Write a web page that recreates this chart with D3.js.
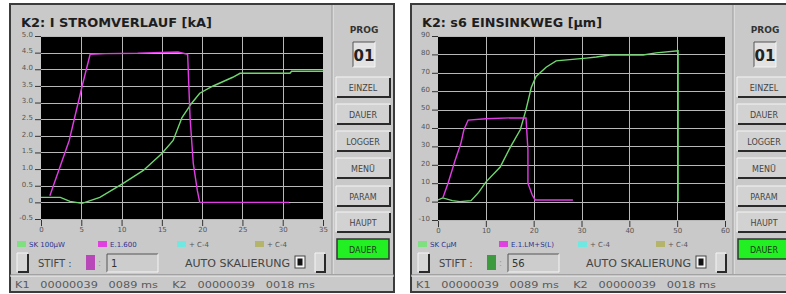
<!DOCTYPE html>
<html>
<head>
<meta charset="utf-8">
<script src="https://d3js.org/d3.v7.min.js"></script>
<style>
  body { margin: 0; background: #fff; }
  svg text { font-family: "DejaVu Sans", sans-serif; }
</style>
</head>
<body>
<svg id="svg" width="786" height="294"></svg>
<script>
// ---- left panel: current curve
const leftTitle = "K2: I STROMVERLAUF [kA]";
const leftXTicks = [0, 5, 10, 15, 20, 25, 30, 35];
const leftYTicks = [-0.5, 0, 0.5, 1, 1.5, 2, 2.5, 3, 3.5, 4, 4.5, 5];
const leftMagT = [1.1, 3.5, 5.1, 6.1, 8, 12, 14, 17, 18.2, 18.5, 18.9, 19.4, 19.7, 30.8];
const leftMagV = [0.2, 1.86, 3.49, 4.45, 4.47, 4.48, 4.5, 4.52, 4.45, 2.55, 1.17, 0.36, 0.0, 0.0];
const leftGrnT = [0, 2.4, 3.6, 5.1, 7.3, 10.2, 12.7, 15.0, 16.4, 17.5, 18.7, 19.7, 21.3, 23.8, 24.7, 30.9, 31.1, 35];
const leftGrnV = [0.15, 0.15, 0.03, -0.03, 0.15, 0.57, 0.96, 1.47, 1.86, 2.55, 2.98, 3.28, 3.49, 3.76, 3.88, 3.88, 3.94, 3.94];
const leftLegend = ["SK 100µW", "E.1.600", "+ C-4", "+ C-4"];

// ---- right panel: displacement curve
const rightTitle = "K2: s6 EINSINKWEG [µm]";
const rightXTicks = [0, 10, 20, 30, 40, 50, 60];
const rightYTicks = [-10, 0, 10, 20, 30, 40, 50, 60, 70, 80, 90];
const rightMagT = [1.0, 2.1, 3.6, 4.8, 5.4, 6.3, 10, 15, 18.4, 18.8, 18.8, 19.7, 20.3, 28.2];
const rightMagV = [2, 10, 22.6, 31.8, 38.9, 44.3, 45, 45.5, 45.4, 28, 10, 3.6, 0.9, 0.9];
const rightGrnT = [0, 1.0, 3.0, 4.6, 6.9, 8.5, 10.0, 13.0, 15.1, 17.2, 18.4, 19.5, 20.5, 22.6, 24.7, 31.0, 33.1, 36.0, 42.9, 45.6, 50.2, 50.2];
const rightGrnV = [0.9, 2, 0.5, 0, 0.5, 5, 10.6, 18.8, 29.5, 39, 50, 62, 68, 73, 76.5, 78, 78.6, 79.7, 79.7, 80.8, 82, 0];
const rightLegend = ["SK CµM", "E.1.LM+S(L)", "+ C-4", "+ C-4"];

const sideButtons = ["EINZEL", "DAUER", "LOGGER", "MENÜ", "PARAM", "HAUPT"];
const statusText = "K1   00000039   0089 ms    K2   00000039   0018 ms";

const svg = d3.select("#svg");
const panelGray = "#c9c9c9";
const dark = "#2a2a2a";

function raised(g, x, y, w, h, fill) {
    g.append("rect").attr("x", x).attr("y", y).attr("width", w).attr("height", h).attr("fill", fill || "#d2d2d2");
    g.append("path").attr("d", `M${x},${y + h} V${y} H${x + w}`).attr("stroke", "#f4f4f4").attr("fill", "none");
    g.append("path").attr("d", `M${x + 1},${y + h} H${x + w} V${y + 1}`).attr("stroke", dark).attr("stroke-width", 2).attr("fill", "none");
}

function sunken(g, x, y, w, h, fill) {
    g.append("rect").attr("x", x).attr("y", y).attr("width", w).attr("height", h).attr("fill", fill || "#d0d0d0");
    g.append("path").attr("d", `M${x},${y + h} V${y} H${x + w}`).attr("stroke", "#555").attr("fill", "none");
    g.append("path").attr("d", `M${x},${y + h} H${x + w} V${y}`).attr("stroke", "#f4f4f4").attr("fill", "none");
}

function drawPanel(ox, ox0, cfg) {
    const g = svg.append("g").attr("transform", `translate(${ox},0)`);

    // frame
    g.append("rect").attr("x", ox0).attr("y", 4).attr("width", 394 - ox0).attr("height", 288)
        .attr("fill", panelGray).attr("stroke", "#3c3c3c").attr("stroke-width", 2);
    g.append("line").attr("x1", 333).attr("x2", 333).attr("y1", 5).attr("y2", 274).attr("stroke", "#ececec");
    g.append("line").attr("x1", 332).attr("x2", 332).attr("y1", 5).attr("y2", 274).attr("stroke", "#9a9a9a");
    g.append("line").attr("x1", ox0).attr("x2", 394).attr("y1", 275).attr("y2", 275).attr("stroke", "#7a7a7a");
    g.append("line").attr("x1", ox0).attr("x2", 394).attr("y1", 276).attr("y2", 276).attr("stroke", "#efefef");

    // title
    g.append("text").attr("x", 21).attr("y", 27).text(cfg.title)
        .attr("font-size", 12).attr("font-weight", "bold").attr("fill", "#1e1e1e")
        .attr("textLength", cfg.titleW).attr("lengthAdjust", "spacingAndGlyphs");

    // plot
    const x = d3.scaleLinear().domain(d3.extent(cfg.xTicks)).range([cfg.plotL, cfg.plotR]);
    const y = d3.scaleLinear().domain(d3.extent(cfg.yTicks)).range([cfg.plotB, 36]);

    g.append("rect").attr("x", cfg.plotL).attr("y", 36).attr("width", cfg.plotR - cfg.plotL)
        .attr("height", cfg.plotB - 36).attr("fill", "#000");

    const grid = g.append("g").attr("stroke", "#b8b8b8").attr("stroke-width", 1);
    grid.selectAll("line.h").data(cfg.yTicks).join("line").attr("class", "h")
        .attr("x1", cfg.plotL).attr("x2", cfg.plotR)
        .attr("y1", d => Math.round(y(d)) + 0.5).attr("y2", d => Math.round(y(d)) + 0.5);
    grid.selectAll("line.v").data(cfg.xTicks.slice(1, -1)).join("line").attr("class", "v")
        .attr("y1", 36).attr("y2", cfg.plotB)
        .attr("x1", d => Math.round(x(d)) + 0.5).attr("x2", d => Math.round(x(d)) + 0.5);

    const yAx = g.append("g").attr("transform", `translate(${cfg.plotL},0)`)
        .call(d3.axisLeft(y).tickValues(cfg.yTicks).tickSize(6).tickPadding(2).tickFormat(cfg.yFmt));
    const xAx = g.append("g").attr("transform", `translate(0,${cfg.plotB + 1})`)
        .call(d3.axisBottom(x).tickValues(cfg.xTicks).tickSize(6).tickPadding(1));
    [yAx, xAx].forEach(a => {
        a.select(".domain").remove();
        a.selectAll("line").attr("stroke", "#333");
        a.selectAll("text").attr("font-size", 7).attr("fill", "#555").attr("font-family", "DejaVu Sans");
    });
    yAx.selectAll("text").attr("dy", "0.05em");

    const clipId = "clip" + ox;
    g.append("clipPath").attr("id", clipId).append("rect")
        .attr("x", cfg.plotL).attr("y", 36).attr("width", cfg.plotR - cfg.plotL).attr("height", cfg.plotB - 36);

    const line = d3.line().x(d => x(d[0])).y(d => y(d[1]));
    const series = [
        { t: cfg.grnT, v: cfg.grnV, c: "#6fd86f" },
        { t: cfg.magT, v: cfg.magV, c: "#e23ce6" }
    ];
    g.append("g").attr("clip-path", `url(#${clipId})`).selectAll("path")
        .data(series).join("path")
        .attr("d", s => line(d3.zip(s.t, s.v)))
        .attr("fill", "none").attr("stroke", s => s.c).attr("stroke-width", 1.4);

    // legend
    const legCols = ["#7ee07e", "#e040e0", "#6ee8e0", "#b4b46a"];
    const legX = [17, 98, 177, 255];
    cfg.legend.forEach((t, i) => {
        g.append("rect").attr("x", legX[i]).attr("y", 241).attr("width", 9).attr("height", 6).attr("fill", legCols[i]);
        g.append("text").attr("x", legX[i] + 12).attr("y", 247).text(t)
            .attr("font-size", 7).attr("fill", i < 2 ? "#2a3590" : "#555");
    });

    // controls row
    raised(g, 17, 253, 11, 19, "#d6d6d6");
    g.append("text").attr("x", 38).attr("y", 267).text("STIFT :").attr("font-size", 10).attr("fill", "#444");
    g.append("rect").attr("x", 86).attr("y", 255).attr("width", 9).attr("height", 15).attr("fill", cfg.stiftCol);
    g.append("text").attr("x", 98).attr("y", 266).text(":").attr("font-size", 9).attr("fill", "#999");
    sunken(g, 107, 254, 51, 18, "#cdcdcd");
    g.append("text").attr("x", 111).attr("y", 267).text(cfg.stift).attr("font-size", 10).attr("fill", "#333");
    g.append("text").attr("x", 185).attr("y", 267).text("AUTO SKALIERUNG").attr("font-size", 10).attr("fill", "#444")
        .attr("textLength", 105).attr("lengthAdjust", "spacingAndGlyphs");
    g.append("rect").attr("x", 295).attr("y", 256).attr("width", 10).attr("height", 12)
        .attr("fill", "#f4f4f4").attr("stroke", "#444");
    g.append("rect").attr("x", 297.5).attr("y", 258.5).attr("width", 5).attr("height", 7).attr("fill", "#111");
    raised(g, 315, 253, 10, 19, "#d6d6d6");

    // status bar
    g.append("text").attr("x", 15).attr("y", 288).text(statusText)
        .style("white-space", "pre").attr("xml:space", "preserve")
        .attr("font-size", 8.5).attr("fill", "#5a5a5a").attr("textLength", 300).attr("lengthAdjust", "spacingAndGlyphs");

    // sidebar
    g.append("text").attr("x", 364).attr("y", 33).attr("text-anchor", "middle").text("PROG")
        .attr("font-size", 9).attr("font-weight", "bold").attr("fill", "#333");
    sunken(g, 353, 42, 22, 25, "#e2e2e2");
    g.append("text").attr("x", 364).attr("y", 61).attr("text-anchor", "middle").text("01")
        .attr("font-size", 15).attr("font-weight", "bold").attr("fill", "#222");
    const by = [77, 104, 131, 158, 186, 212];
    sideButtons.forEach((t, i) => {
        raised(g, 336, by[i], 54, 20);
        g.append("text").attr("x", 363).attr("y", by[i] + 14).attr("text-anchor", "middle").text(t)
            .attr("font-size", 8).attr("fill", "#444");
    });
    g.append("rect").attr("x", 337).attr("y", 239).attr("width", 52).attr("height", 20)
        .attr("fill", "#22f022").attr("stroke", "#333").attr("stroke-width", 1.5);
    g.append("text").attr("x", 363).attr("y", 253).attr("text-anchor", "middle").text("DAUER")
        .attr("font-size", 8).attr("fill", "#1a3a1a");
}

drawPanel(0, 10, {
    title: leftTitle, titleW: 191,
    xTicks: leftXTicks, yTicks: leftYTicks,
    yFmt: d => d === 0 ? "0" : d.toFixed(1),
    plotL: 41, plotR: 323, plotB: 219,
    magT: leftMagT, magV: leftMagV, grnT: leftGrnT, grnV: leftGrnV,
    legend: leftLegend, stiftCol: "#b848b8", stift: "1"
});

drawPanel(401, 10, {
    title: rightTitle, titleW: 180,
    xTicks: rightXTicks, yTicks: rightYTicks,
    yFmt: d => String(d),
    plotL: 37, plotR: 324, plotB: 220,
    magT: rightMagT, magV: rightMagV, grnT: rightGrnT, grnV: rightGrnV,
    legend: rightLegend, stiftCol: "#3e9a3e", stift: "56"
});
</script>
</body>
</html>
